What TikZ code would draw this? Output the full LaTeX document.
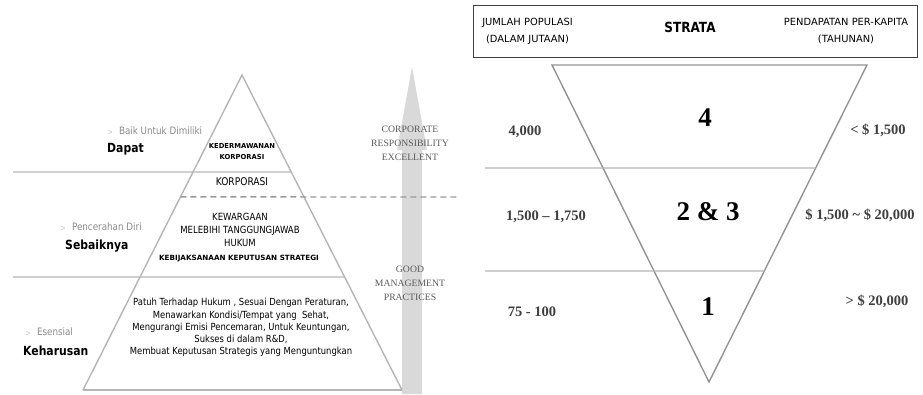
\documentclass[tikz,border=0pt]{standalone}
\usepackage{fontspec}
\setmainfont{Liberation Serif}
\newfontfamily\tah[FakeStretch=0.86]{DejaVu Sans}
\newfontfamily\tahw{DejaVu Sans}
\usetikzlibrary{calc}
\definecolor{lgray}{HTML}{B5B5B5}
\definecolor{agray}{HTML}{D9D9D9}
\definecolor{tgray}{HTML}{8A8A8A}
\definecolor{sgray}{HTML}{5A5A5A}
\definecolor{ngray}{HTML}{404040}
\tikzset{
  pyr/.style={draw=lgray, line width=1.4pt},
  hline/.style={draw=lgray, line width=1.3pt},
  dline/.style={draw=gray!80, line width=1.4pt, dash pattern=on 6pt off 4pt},
  sub/.style={font=\tah\fontsize{10.2}{12}\selectfont, text=tgray, anchor=west, inner sep=0pt},
  lvl/.style={font=\tah\bfseries\fontsize{12.6}{14}\selectfont, anchor=west, inner sep=0pt},
  ptxt/.style={font=\tah\fontsize{9.9}{13}\selectfont, align=center, inner sep=0pt},
  psmall/.style={font=\tahw\bfseries\fontsize{6.8}{11}\selectfont, align=center, inner sep=0pt},
  serif/.style={font=\fontsize{9.7}{14}\selectfont, text=sgray, align=center, inner sep=0pt},
  num/.style={font=\bfseries\fontsize{14.5}{16}\selectfont, text=ngray, inner sep=0pt},
  big/.style={font=\bfseries\fontsize{27}{30}\selectfont, inner sep=0pt},
  hdr/.style={font=\tahw\fontsize{9.9}{17}\selectfont, align=center, inner sep=0pt},
}
\begin{document}
\begin{tikzpicture}[x=1pt,y=-1pt]
\useasboundingbox (0,0) rectangle (923,394);
% ---------- left pyramid ----------
\coordinate (A) at (242,75);
\coordinate (BL) at (83,390);
\coordinate (BR) at (402,390);
% gray arrow
\path[fill=agray] (412,67) -- (427,150) -- (422,150) -- (422,394) -- (402,394) -- (402,150) -- (397,150) -- cycle;
\draw[pyr] (BL) -- (A) -- (BR);
\draw[hline] (BL) -- (BR);
\coordinate (h1) at (13,172);
\coordinate (h2) at (13,277);
\coordinate (d2) at (460,197);
\draw[hline] (h1) -- ($(A)!0.308!(BR)$);
\draw[hline] (h2) -- ($(A)!0.641!(BR)$);
\draw[dline] ($(A)!0.387!(BL)$) -- (d2);
% left labels
\node[sub] (s1) at (107,131) {\scalebox{0.75}{$>$}\hspace{6pt}Baik Untuk Dimiliki};
\node[lvl] (l1) at (107,149) {Dapat};
\node[sub] (s2) at (60,227) {\scalebox{0.75}{$>$}\hspace{6pt}Pencerahan Diri};
\node[lvl] (l2) at (65,246) {Sebaiknya};
\node[sub] (s3) at (25,332) {\scalebox{0.75}{$>$}\hspace{6pt}Esensial};
\node[lvl] (l3) at (23,351) {Keharusan};
% pyramid texts
\node[psmall] (p1) at (242,151.5) {KEDERMAWANAN\\KORPORASI};
\node[ptxt, font=\tah\fontsize{10.6}{13}\selectfont] (p2) at (242,182) {KORPORASI};
\node[ptxt] (p3) at (240,229.5) {KEWARGAAN\\MELEBIHI TANGGUNGJAWAB\\HUKUM};
\node[psmall, font=\tahw\bfseries\fontsize{7.2}{11}\selectfont] (p4) at (239,259) {KEBIJAKSANAAN KEPUTUSAN STRATEGI};
\node[ptxt, font=\tah\fontsize{9.8}{12.2}\selectfont] (p5) at (241,327.5) {Patuh Terhadap Hukum , Sesuai Dengan Peraturan,\\Menawarkan Kondisi/Tempat yang\ \ Sehat,\\Mengurangi Emisi Pencemaran, Untuk Keuntungan,\\Sukses di dalam R\&D,\\Membuat Keputusan Strategis yang Menguntungkan};
% arrow texts
\node[serif] (c1) at (410,143) {CORPORATE\\RESPONSIBILITY\\EXCELLENT};
\node[serif] (c2) at (410,283) {GOOD\\MANAGEMENT\\PRACTICES};
% ---------- right inverted triangle ----------
\coordinate (TL) at (552,65);
\coordinate (TR) at (867,65);
\coordinate (Bt) at (709,382);
\draw[pyr, draw=gray!85] (TL) -- (TR) -- (Bt) -- cycle;
\coordinate (r1) at (485,168);
\coordinate (r2) at (485,271);
\draw[hline] (r1) -- ($(TR)!0.325!(Bt)$);
\draw[hline] (r2) -- ($(TR)!0.65!(Bt)$);
% header box
\node[draw=ngray, line width=0.9pt, minimum width=444pt, minimum height=52pt, inner sep=0pt] (box) at (695,31) {};
\node[hdr] (h1t) at (527.5,31.5) {JUMLAH POPULASI\\(DALAM JUTAAN)};
\node[font=\tah\bfseries\fontsize{14}{16}\selectfont, inner sep=0pt] (strata) at (690,27.5) {STRATA};
\node[hdr] (h2t) at (846,31.5) {PENDAPATAN PER-KAPITA\\(TAHUNAN)};
% strata numbers
\node[big] (n4) at (705,118) {4};
\node[big] (n23) at (708,212) {2 \& 3};
\node[big] (n1) at (708,307) {1};
% left numbers
\node[num] (a1) at (525,132) {4,000};
\node[num] (a2) at (546,217) {1,500 -- 1,750};
\node[num] (a3) at (532,312) {75 - 100};
% right numbers
\node[num] (b1) at (878,130) {< \$ 1,500};
\node[num] (b2) at (860,215) {\$ 1,500 \textasciitilde\ \$ 20,000};
\node[num] (b3) at (877,301) {> \$ 20,000};
\end{tikzpicture}
\end{document}
